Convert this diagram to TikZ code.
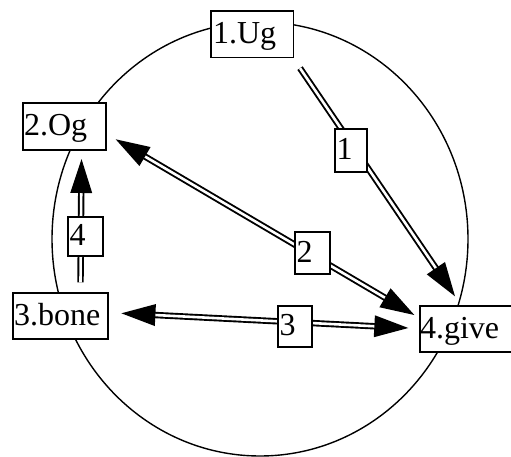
\documentclass[tikz,border=0pt]{standalone}
\usepackage{fontspec}
\setmainfont{Liberation Serif}
\usetikzlibrary{calc}
\newcommand\arrhd[2]{\fill (#1) -- ($(#1)!34pt!(#2)!11pt!90:(#1)$) -- ($(#1)!34pt!(#2)!11pt!-90:(#1)$) -- cycle;}
\begin{document}
\begin{tikzpicture}[x=1pt,y=1pt,
  box/.style={draw, fill=white, line width=1.4pt, rectangle, align=left,
    font=\fontsize{32}{36}\selectfont, text height=18.5pt, text depth=0pt},
  lbl/.style={draw, fill=white, line width=1.4pt, rectangle, align=left,
    font=\fontsize{32}{36}\selectfont, text height=18.5pt, text depth=0pt, inner xsep=1.5pt},
  dbl/.style={draw, line width=1.9pt, double=white, double distance=2.6pt, shorten >=32pt},
  dbl2/.style={draw, line width=1.9pt, double=white, double distance=2.6pt, shorten >=32pt, shorten <=32pt}]
\useasboundingbox (0,0) rectangle (511,456);
% circle of edges between the four nodes
\coordinate (c) at (260,217);
\draw[line width=1.4pt] (c) ellipse [x radius=208, y radius=217];
% nodes
\node[box, text width=78.7pt, inner xsep=2pt, minimum height=46.7pt] (ug) at (252.4,421.7) {1.Ug};
\node[box, text width=81pt, inner xsep=1pt, minimum height=47pt] (og) at (64.5,329.5) {2.Og};
\node[box, text width=93pt, inner xsep=1pt, minimum height=46pt] (bone) at (60.5,140) {3.bone};
\node[box, text width=93pt, inner xsep=0pt, minimum height=46pt] (give) at (466.5,127) {4.give};
% connector ends
\coordinate (e1s) at ($(ug.south)+(47.6,-9.8)$);
\coordinate (e1t) at ($(give.north)+(-11.5,9)$);
\coordinate (e2a) at ($(og.east)+(9,-12.8)$);
\coordinate (e2b) at ($(give.west)+(-5,14)$);
\coordinate (e3a) at ($(bone.east)+(12.7,2.7)$);
\coordinate (e3b) at ($(give.west)+(-11,1)$);
\coordinate (e4s) at ($(bone.north)+(20,10)$);
\coordinate (e4t) at ($(og.south)+(17,-8.3)$);
% connectors
\draw[dbl] (e1s) -- (e1t);
\arrhd{e1t}{e1s}
\draw[dbl2] (e2a) -- (e2b);
\arrhd{e2a}{e2b}
\arrhd{e2b}{e2a}
\draw[dbl2] (e3a) -- (e3b);
\arrhd{e3a}{e3b}
\arrhd{e3b}{e3a}
\draw[dbl] (e4s) -- (e4t);
\arrhd{e4t}{e4s}
% labels
\node[lbl, text width=29pt, minimum height=43pt] (l1) at (351,305.5) {1};
\node[lbl, text width=32pt, minimum height=42pt] (l2) at (312.5,203) {2};
\node[lbl, text width=31pt, minimum height=41pt] (l3) at (295,129.5) {3};
\node[lbl, text width=32pt, minimum height=39pt] (l4) at (85.5,219.5) {4};
\end{tikzpicture}
\end{document}
